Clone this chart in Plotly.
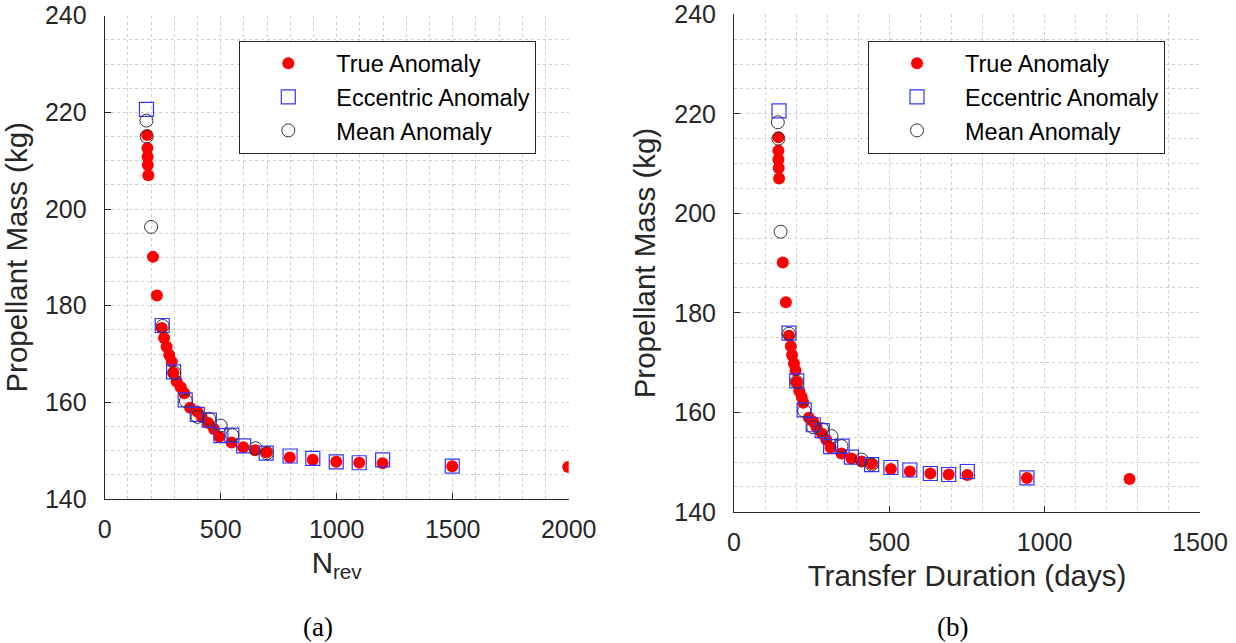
import plotly.graph_objects as go

# ---- data ----
n_true = [183, 184, 185, 186, 188, 208, 225, 246, 256, 267, 278, 289, 296, 310, 328, 343, 368, 399,
          418, 447, 471, 494, 547, 597, 648, 698, 798, 897, 998, 1097, 1198, 1498, 1998]
d_true = [143, 143, 143, 144, 145, 157, 167, 177, 183, 187, 193, 198, 202, 210, 218, 223, 241, 255,
          266, 283, 297, 311, 346, 378, 411, 443, 505, 566, 632, 691, 751, 943, 1273]
m_true = [215.3, 212.6, 210.8, 209.1, 207.0, 190.1, 182.1, 175.4, 173.3, 171.5, 169.8, 168.4, 166.1,
          164.3, 163.1, 161.9, 158.9, 158.1, 157.0, 155.7, 154.5, 152.9, 151.7, 150.7, 150.1, 149.6,
          148.6, 148.1, 147.7, 147.5, 147.4, 146.8, 146.6]

n_ecc = [180, 248, 297, 347, 399, 451, 501, 548, 599, 696, 799, 897, 998, 1097, 1198, 1498]
d_ecc = [145, 177, 202, 226, 255, 284, 311, 348, 378, 443, 505, 566, 632, 691, 751, 943]
m_ecc = [220.6, 175.9, 166.3, 160.5, 157.5, 156.3, 153.1, 153.2, 151.0, 149.5, 148.9, 148.4, 147.7,
         147.5, 148.1, 146.8]

n_mean = [180, 181, 200, 250, 300, 350, 400, 450, 500, 550, 650, 700]
d_mean = [141, 143, 150, 177, 202, 226, 255, 284, 314, 346, 411, 443]
m_mean = [218.3, 215.0, 196.3, 175.8, 166.1, 160.3, 157.0, 156.6, 155.2, 153.2, 150.5, 149.5]

series_names = ["True Anomaly", "Eccentric Anomaly", "Mean Anomaly"]
y_label = "Propellant Mass (kg)"
x_label_a = "N<sub>rev</sub>"
x_label_b = "Transfer Duration (days)"
captions = ["(a)", "(b)"]

W, H = 1236, 643
TXT = "#262626"
GRID = "#cfcfcf"
FONT = "Liberation Sans, Arial, Helvetica, sans-serif"


def px_x(p):
    return p / W


def px_y(p):
    return 1 - p / H


fig = go.Figure()


def add_series(xs, ys, name, idx, xa, ya, leg):
    if idx == 0:
        marker = dict(symbol="circle", size=12, color="#ff0000", line=dict(width=0))
    elif idx == 1:
        marker = dict(symbol="square-open", size=14, color="#3333ff", line=dict(width=1.2, color="#3333ff"))
    else:
        marker = dict(symbol="circle-open", size=13, color="#333333", line=dict(width=1, color="#333333"))
    fig.add_trace(go.Scatter(x=xs, y=ys, mode="markers", name=name, marker=marker,
                             xaxis=xa, yaxis=ya, legend=leg, legendgroup=leg + str(idx)))


for i, (xs, ys) in enumerate([(n_true, m_true), (n_ecc, m_ecc), (n_mean, m_mean)]):
    add_series(xs, ys, series_names[i], i, "x", "y", "legend")
for i, (xs, ys) in enumerate([(d_true, m_true), (d_ecc, m_ecc), (d_mean, m_mean)]):
    add_series(xs, ys, series_names[i], i, "x2", "y2", "legend2")


def xaxis_cfg(dom, rng, title, anchor):
    return dict(domain=dom, range=rng, anchor=anchor, dtick=500, tick0=0, automargin=False,
                showline=True, linecolor=TXT, linewidth=1, mirror=False,
                ticks="inside", ticklen=6, tickcolor=TXT, tickwidth=1,
                showgrid=True, gridcolor=GRID, griddash="dot", gridwidth=1,
                minor=dict(dtick=100, showgrid=True, gridcolor=GRID, griddash="dot", gridwidth=1),
                zeroline=False, tickfont=dict(family=FONT, size=25, color=TXT),
                ticklabelstandoff=8, ticklabeloverflow="allow",
                title=dict(text=title, font=dict(family=FONT, size=29.5, color=TXT), standoff=10))


def yaxis_cfg(dom, title, anchor):
    return dict(domain=dom, range=[140, 240], anchor=anchor, dtick=20, tick0=140, automargin=False,
                showline=True, linecolor=TXT, linewidth=1, mirror=False,
                ticks="inside", ticklen=6, tickcolor=TXT, tickwidth=1,
                showgrid=True, gridcolor=GRID, griddash="dot", gridwidth=1,
                minor=dict(dtick=5, showgrid=True, gridcolor=GRID, griddash="dot", gridwidth=1),
                zeroline=False, tickfont=dict(family=FONT, size=25, color=TXT),
                ticklabelstandoff=12, ticklabeloverflow="allow",
                title=dict(text=title, font=dict(family=FONT, size=29.5, color=TXT), standoff=9))


legend_common = dict(bgcolor="white", bordercolor=TXT, borderwidth=1,
                     font=dict(family=FONT, size=23.5, color="black"),
                     xanchor="left", yanchor="top", itemwidth=86, tracegroupgap=0,
                     itemclick=False, itemdoubleclick=False)

cap_font = dict(family="Liberation Serif, Times New Roman, serif", size=27, color="black")

fig.update_layout(
    width=W, height=H, margin=dict(l=0, r=0, t=0, b=0, autoexpand=False),
    paper_bgcolor="white", plot_bgcolor="white", showlegend=True,
    xaxis=xaxis_cfg([px_x(104.7), px_x(568.7)], [0, 2000], x_label_a, "y"),
    yaxis=yaxis_cfg([px_y(499), px_y(15.7)], y_label, "x"),
    xaxis2=xaxis_cfg([px_x(734), px_x(1200)], [0, 1500], x_label_b, "y2"),
    yaxis2=yaxis_cfg([px_y(511.8), px_y(14.3)], y_label, "x2"),
    legend=dict(x=px_x(239.3), y=px_y(40.5), **legend_common),
    legend2=dict(x=px_x(868), y=px_y(40.5), **legend_common),
    annotations=[
        dict(text=captions[0], x=px_x(318), y=px_y(627), xref="paper", yref="paper",
             xanchor="center", yanchor="middle", showarrow=False, font=cap_font),
        dict(text=captions[1], x=px_x(952), y=px_y(627), xref="paper", yref="paper",
             xanchor="center", yanchor="middle", showarrow=False, font=cap_font),
    ],
)

# remove the browser's default 8px body margin so the figure fills the window exactly
fig.write_html("out.html", config={"displayModeBar": False},
               post_script="document.body.style.margin='0px';document.body.style.overflow='hidden';")
